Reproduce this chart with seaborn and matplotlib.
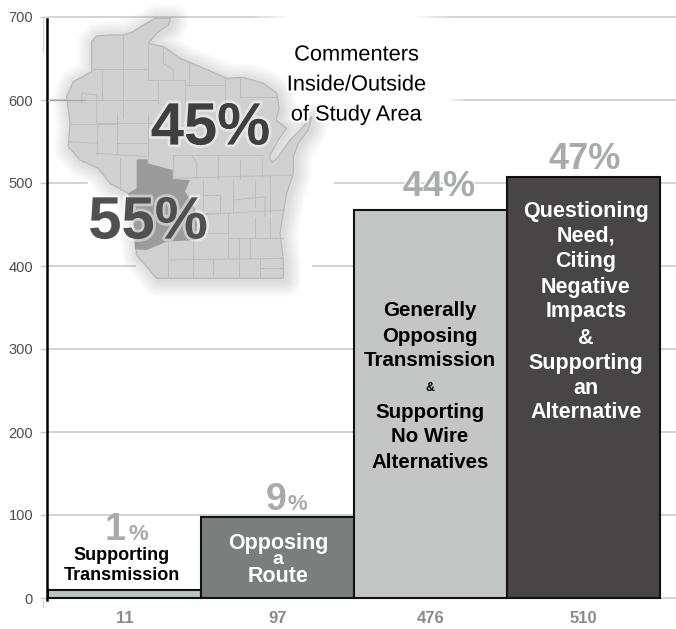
import numpy as np
import matplotlib
matplotlib.use('Agg')
import matplotlib.pyplot as plt
import matplotlib.patheffects as pe
from matplotlib.patches import Polygon
import seaborn as sns

# --- data ---
tick_labels = ['11', '97', '476', '510']
bar_heights = [10, 98, 468, 507]
bar_colors = ['#b9c4c4', '#7a7e7d', '#c4c6c5', '#474546']
y_ticks = [0, 100, 200, 300, 400, 500, 600, 700]

# map outline, in 3x zoom pixels of the reference
state_outline = [(275, 125), (290, 108), (330, 105), (370, 105), (400, 95), (430, 75), (465, 55), (512, 55),
                 (505, 75), (470, 100), (445, 130), (490, 140), (540, 175), (600, 200), (680, 235), (730, 232),
                 (790, 250), (830, 280), (838, 325), (828, 360), (860, 385), (835, 420), (808, 470), (815, 488),
                 (835, 470), (870, 420), (905, 385), (935, 350), (925, 390), (895, 430), (880, 470), (880, 520),
                 (860, 580), (850, 640), (840, 700), (850, 780), (850, 835), (470, 835), (440, 800), (410, 765),
                 (405, 720), (400, 640), (385, 580), (330, 550), (295, 505), (240, 480), (205, 440), (210, 370),
                 (200, 290), (220, 245), (275, 215)]
study_area = [(410, 478), (443, 478), (443, 490), (518, 510), (518, 537), (570, 540), (555, 575), (580, 610),
              (590, 650), (590, 720), (500, 725), (440, 750), (405, 748), (400, 640), (385, 580), (410, 565)]
county_lines = [[(368, 108), (368, 355)], [(278, 208), (445, 208)], [(445, 130), (445, 240)],
                [(490, 140), (490, 190), (520, 210), (520, 240)], [(445, 240), (555, 240)], [(568, 190), (568, 255)],
                [(305, 210), (305, 300)], [(245, 310), (245, 280), (290, 285), (290, 370)], [(200, 300), (470, 300)],
                [(290, 370), (470, 370)], [(475, 240), (475, 310)], [(555, 240), (555, 340)], [(555, 255), (675, 255)],
                [(675, 235), (675, 340)], [(720, 235), (720, 290), (830, 290)], [(210, 372), (350, 372)],
                [(290, 375), (290, 465)], [(350, 340), (350, 460)], [(205, 425), (290, 430)], [(290, 460), (440, 470)],
                [(350, 430), (445, 430)], [(443, 345), (443, 490)], [(518, 465), (790, 465)], [(518, 465), (518, 537)],
                [(575, 465), (590, 490), (590, 537)], [(655, 470), (655, 537)], [(720, 480), (720, 537)],
                [(785, 475), (785, 530)], [(518, 535), (875, 525)], [(360, 475), (360, 570)], [(610, 540), (610, 640)],
                [(700, 540), (700, 640)], [(765, 540), (765, 620)], [(810, 525), (810, 640)],
                [(610, 585), (660, 585), (660, 640), (610, 640)], [(700, 600), (795, 590), (795, 650)],
                [(590, 645), (850, 630)], [(685, 640), (685, 775)], [(765, 650), (765, 715)], [(810, 655), (810, 715)],
                [(585, 700), (685, 700)], [(685, 715), (850, 715)], [(580, 700), (580, 835)], [(503, 725), (503, 835)],
                [(503, 780), (850, 775)], [(640, 775), (640, 835)], [(718, 715), (718, 835)], [(780, 775), (780, 835)],
                [(750, 715), (750, 775)], [(780, 805), (850, 805)]]

# --- figure ---
sns.set_style('white')
plt.rcParams['font.family'] = ['Liberation Sans', 'DejaVu Sans']

W, H = 676, 629
fig = plt.figure(figsize=(W / 100, H / 100), dpi=100)
ax = fig.add_axes([47 / W, 1 - 600 / H, (W - 47) / W, 585 / H])

sns.barplot(x=tick_labels, y=bar_heights, hue=tick_labels, palette=bar_colors, width=1, dodge=False,
            legend=False, edgecolor='#111111', linewidth=1.5, saturation=1, ax=ax)

# 153 px per bar, 0.83 px per unit
ax.set_xlim(-0.5 - 1 / 153, (W - 48) / 153 - 0.5)
ax.set_ylim(-2 / 0.83, 700 + 2 / 0.83)
ax.set_yticks(y_ticks)
ax.set_axisbelow(True)
ax.yaxis.grid(True, color='#c8c8c8', lw=1.1)
ax.xaxis.grid(False)
ax.tick_params(axis='y', length=5, width=1, color='#c8c8c8', labelsize=10.5, labelcolor='#4d4d4d', pad=5, left=True)
ax.tick_params(axis='x', length=0, labelsize=12, labelcolor='#8a8a8a', pad=8)
for lab in ax.get_xticklabels():
    lab.set_fontweight('bold')
sns.despine(ax=ax, top=True, right=True, bottom=True)
ax.spines['left'].set_color('#000000')
ax.spines['left'].set_linewidth(1.8)
ax.spines['left'].set_bounds(-2 / 0.83, 698)

# overlay in reference pixels for the map and the text
ov = fig.add_axes([0, 0, 1, 1], facecolor='none')
ov.set_axis_off()

# white fade over the gridlines behind the map
def cover(x0, x1, y, fade_in=0, fade_out=0):
    xs = np.arange(x0, x1 + 1)
    alpha = np.ones(len(xs))
    if fade_in:
        alpha = np.minimum(alpha, np.clip((xs - x0) / fade_in, 0, 1))
    if fade_out:
        alpha = np.minimum(alpha, np.clip((x1 - xs) / fade_out, 0, 1))
    img = np.ones((1, len(xs), 4))
    img[0, :, 3] = alpha
    ov.imshow(img, extent=(x0, x1, y + 3, y - 3), aspect='auto', zorder=1, interpolation='bilinear')

cover(250, 453, 17, fade_in=40, fade_out=40)
cover(85, 467, 100, fade_out=20)
cover(88, 334, 182)
cover(136, 312, 266)

ov.plot([43, 43], [17, 52], color='#d8d8d8', lw=1, zorder=1)
ov.plot([43, 43], [600, 607], color='#d8d8d8', lw=1, zorder=1)

# map
outline = np.array(state_outline) / 3
for lw in range(24, 1, -2):
    ov.add_patch(Polygon(outline + [2, 2], closed=True, fill=False, edgecolor='#808080',
                         lw=lw, alpha=0.022, joinstyle='round', zorder=2))
ov.add_patch(Polygon(outline, closed=True, facecolor='#d0d0d0', edgecolor='#b8b8b8', lw=0.9, zorder=3))
ov.add_patch(Polygon(np.array(study_area) / 3, closed=True, facecolor='#9b9b9b', edgecolor='none', zorder=3.2))
for seg in county_lines:
    pts = np.array(seg) / 3
    ov.plot(pts[:, 0], pts[:, 1], color='#bdbdbd', lw=0.7, zorder=3.1)
ov.plot([48, 85], [100, 100], color='#a8a8a8', lw=1, zorder=3.3)

glow = [pe.withStroke(linewidth=4, foreground='white', alpha=0.45)]
ov.text(210.5, 129, '45%', fontsize=43, fontweight='bold', color='#3f3f3f', ha='center', va='center',
        path_effects=glow, zorder=5)
ov.text(148, 223, '55%', fontsize=43, fontweight='bold', color='#505050', ha='center', va='center',
        path_effects=glow, zorder=5)

title_glow = [pe.withStroke(linewidth=3, foreground='white')]
for txt, y in zip(['Commenters', 'Inside/Outside', 'of Study Area'], [55, 85, 115]):
    ov.text(356, y, txt, fontsize=15.7, color='#000000', ha='center', va='center', path_effects=title_glow, zorder=6)

# text on the bars
def label_lines(x, lines, ys, size, color, small=None):
    for txt, y in zip(lines, ys):
        fs = small if (small and txt in ('&', 'a')) else size
        ov.text(x, y + 2, txt, fontsize=fs, fontweight='bold', color=color, ha='center', va='center', zorder=6)

label_lines(122, ['Supporting', 'Transmission'], [553, 574], 13, '#000000')
label_lines(278, ['Opposing', 'a', 'Route'], [541, 558, 574], 15.5, '#ffffff', small=14)
label_lines(430, ['Generally', 'Opposing', 'Transmission', '&', 'Supporting', 'No Wire', 'Alternatives'],
            [308, 334, 359, 386, 410, 435, 460], 14.8, '#000000', small=9)
label_lines(586, ['Questioning', 'Need,', 'Citing', 'Negative', 'Impacts', '&', 'Supporting', 'an', 'Alternative'],
            [210, 234, 260, 285, 310, 336, 361, 386, 411], 15.5, '#ffffff')

# percentages above the bars
pct_gray = '#a9abab'
ov.text(115, 540, '1', fontsize=27, fontweight='bold', color=pct_gray, ha='center', va='baseline', zorder=6)
ov.text(138, 540, '%', fontsize=16, fontweight='bold', color=pct_gray, ha='center', va='baseline', zorder=6)
ov.text(276, 510, '9', fontsize=27, fontweight='bold', color=pct_gray, ha='center', va='baseline', zorder=6)
ov.text(297, 510, '%', fontsize=16, fontweight='bold', color=pct_gray, ha='center', va='baseline', zorder=6)
ov.text(439, 196, '44%', fontsize=26, fontweight='bold', color=pct_gray, ha='center', va='baseline', zorder=6,
        path_effects=[pe.withStroke(linewidth=2, foreground='white')])
ov.text(585, 169, '47%', fontsize=26, fontweight='bold', color=pct_gray, ha='center', va='baseline', zorder=6)

ov.set_xlim(0, W)
ov.set_ylim(H, 0)

fig.savefig('out.png', dpi=100, facecolor='white')
